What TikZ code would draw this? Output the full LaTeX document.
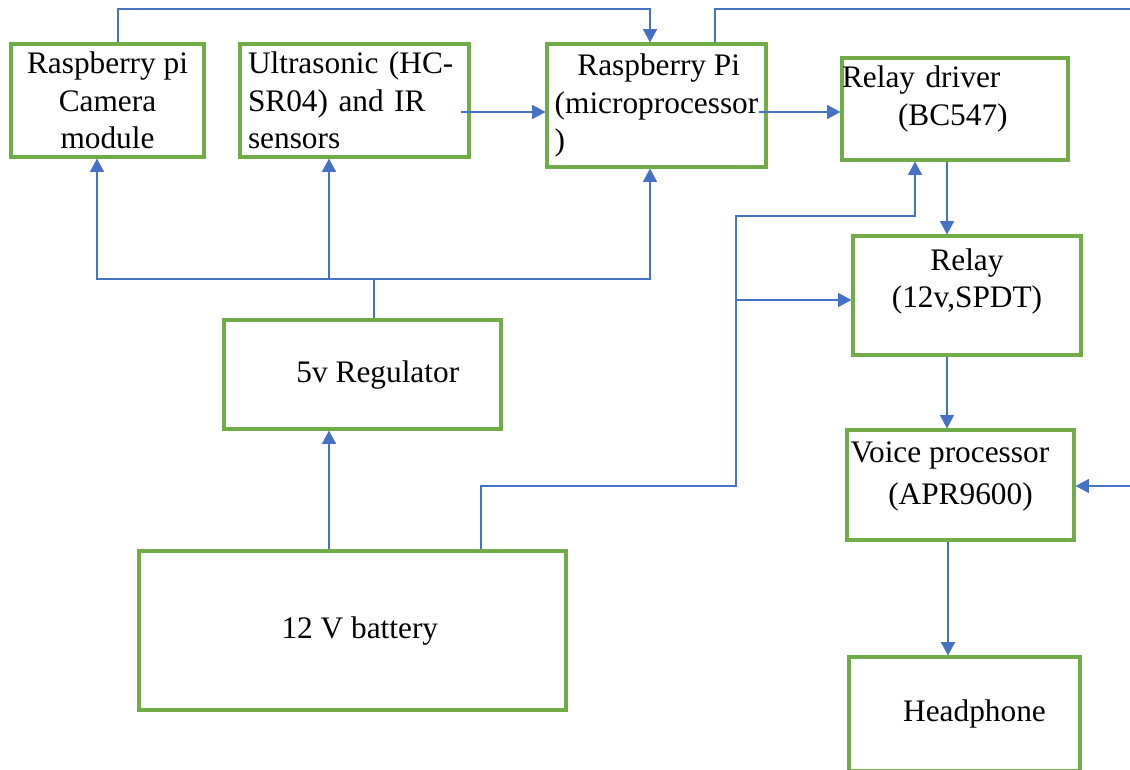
\documentclass[tikz,border=0pt]{standalone}
\usepackage{fontspec}
\setmainfont{Liberation Serif}
\usetikzlibrary{arrows.meta,calc}
\definecolor{boxgreen}{HTML}{70AD47}
\definecolor{wireblue}{HTML}{4472C4}

\begin{document}
\begin{tikzpicture}[
  x=0.75pt,y=-0.75pt,
  every node/.style={font=\fontsize{23.5}{28}\selectfont},
  box/.style={draw=boxgreen,line width=2.3pt,inner sep=0pt,align=center},
  wire/.style={draw=wireblue,line width=1pt},
  arr/.style={wire,-{Triangle[length=10pt,width=10.5pt]}}
]
\useasboundingbox (0,0) rectangle (1130,769);
\node[box,minimum width=144.75pt,minimum height=84.75pt] (cam) at (107.5,100.5) {Raspberry pi\\Camera\\module};
\node[box,align=left,text width=159.75pt,inner xsep=6pt,minimum height=84.75pt] (us) at (354.5,100.5) {Ultrasonic (HC-\\SR04) and IR\\sensors};
\node[box,align=left,minimum width=164.25pt,minimum height=92.25pt] (rpi) at (656.5,105.5) {\hspace*{17pt}Raspberry Pi\\(microprocessor\\)};
\node[box,align=left,text width=169.5pt,minimum height=76.5pt] (drv) at (955,109) {Relay driver\\\hspace*{42pt}(BC547)\\[-8pt]\mbox{}};
\node[box,minimum width=171pt,minimum height=89.25pt] (rly) at (967,295.5) {Relay\\(12v,SPDT)\\[-2pt]\mbox{}};
\node[box,minimum width=170.25pt,minimum height=82.5pt] (vp) at (960.5,485) {\hspace*{-16pt}Voice processor\\[3pt](APR9600)\\[-10pt]\mbox{}};
\node[box,minimum width=173.25pt,minimum height=85.5pt] (hp) at (964.5,714) {\hspace*{15pt}Headphone};
\node[box,minimum width=207.75pt,minimum height=81.75pt] (reg) at (362.5,374.5) {\hspace*{23pt}5v Regulator};
\node[box,minimum width=320.25pt,minimum height=119.25pt] (bat) at (352.5,630.5) {\hspace*{11pt}12 V battery};
\coordinate (bus) at (374,279);
\coordinate (edgeT) at (1130,9);
\coordinate (edgeV) at (1130,486);
% top wires
\draw[arr] (118,0 |- cam.north) |- (650,9) -- (650,0 |- rpi.north);
\draw[wire] (715,0 |- rpi.north) |- (edgeT);
\draw[arr] ($(us.east |- 0,112)+(-10,0)$) -- (rpi.west |- 0,112);
\draw[arr] ($(rpi.east |- 0,112)+(-9,0)$) -- (drv.west |- 0,112);
% 5v supply
\draw[wire] (374,0 |- reg.north) -- (bus);
\draw[arr] (bus) -| (97,0 |- cam.south);
\draw[arr] (bus) -| (329,0 |- us.south);
\draw[arr] (bus) -| (650,0 |- rpi.south);
% 12v supply
\draw[arr] (329,0 |- bat.north) -- (329,0 |- reg.south);
\draw[arr] (481,0 |- bat.north) |- (736,486) |- (915,216) -- (915,0 |- drv.south);
\draw[arr] (736,300) -- (rly.west |- 0,300);
% output chain
\draw[arr] (947,0 |- drv.south) -- (947,0 |- rly.north);
\draw[arr] (947,0 |- rly.south) -- (947,0 |- vp.north);
\draw[arr] (edgeV) -- (vp.east |- edgeV);
\draw[arr] (948,0 |- vp.south) -- (948,0 |- hp.north);
\end{tikzpicture}
\end{document}
